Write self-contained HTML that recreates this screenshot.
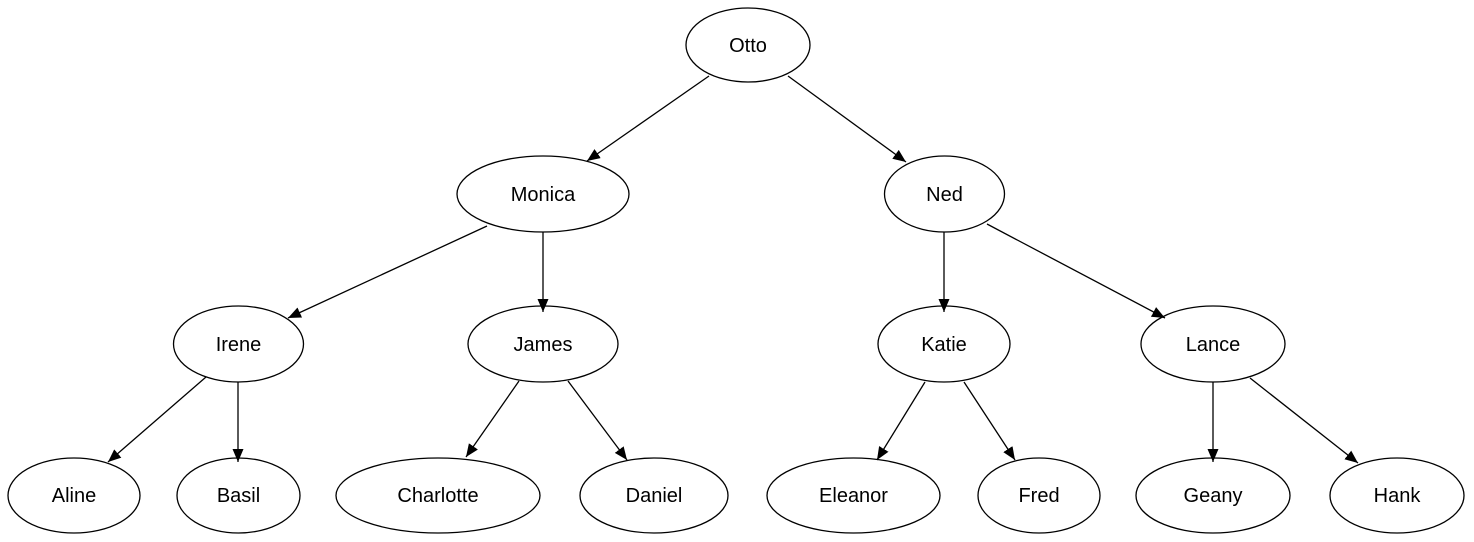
<!DOCTYPE html>
<html><head><meta charset="utf-8"><style>
html,body{margin:0;padding:0;background:#fff;width:1474px;height:542px;overflow:hidden}
text{font-family:"Liberation Sans",sans-serif;font-size:20px;fill:#000}
</style></head><body>
<svg width="1474" height="542" viewBox="0 0 1474 542" xmlns="http://www.w3.org/2000/svg">
<defs><marker id="a" markerUnits="userSpaceOnUse" markerWidth="16" markerHeight="14" refX="13" refY="5.5" orient="auto"><path d="M0,0 L13,5.5 L0,11 z" fill="#000"/></marker></defs>
<g fill="#fff" stroke="#000" stroke-width="1.3">
<ellipse cx="748" cy="45" rx="62" ry="37"/>
<ellipse cx="543" cy="194" rx="86" ry="38"/>
<ellipse cx="944.5" cy="194" rx="60" ry="38"/>
<ellipse cx="238.5" cy="344" rx="65" ry="38"/>
<ellipse cx="543" cy="344" rx="75" ry="38"/>
<ellipse cx="944" cy="344" rx="66" ry="38"/>
<ellipse cx="1213" cy="344" rx="72" ry="38"/>
<ellipse cx="74" cy="495.5" rx="66" ry="37.5"/>
<ellipse cx="238.5" cy="495.5" rx="61.5" ry="37.5"/>
<ellipse cx="438" cy="495.5" rx="102" ry="37.5"/>
<ellipse cx="654" cy="495.5" rx="74" ry="37.5"/>
<ellipse cx="853.5" cy="495.5" rx="86.5" ry="37.5"/>
<ellipse cx="1039" cy="495.5" rx="61" ry="37.5"/>
<ellipse cx="1213" cy="495.5" rx="77" ry="37.5"/>
<ellipse cx="1397" cy="495.5" rx="67" ry="37.5"/>
</g>
<g stroke="#000" stroke-width="1.3" marker-end="url(#a)">
<line x1="709" y1="76" x2="587" y2="161"/>
<line x1="788" y1="76" x2="906" y2="162"/>
<line x1="487" y1="226" x2="288" y2="318"/>
<line x1="543" y1="232" x2="543" y2="312"/>
<line x1="944" y1="232" x2="944" y2="312"/>
<line x1="987" y1="224" x2="1165" y2="318"/>
<line x1="206" y1="377" x2="108" y2="462"/>
<line x1="238" y1="382" x2="238" y2="462"/>
<line x1="519" y1="381" x2="466" y2="457"/>
<line x1="568" y1="381" x2="627" y2="460"/>
<line x1="925" y1="382" x2="877" y2="460"/>
<line x1="964" y1="382" x2="1015" y2="460"/>
<line x1="1213" y1="382" x2="1213" y2="462"/>
<line x1="1250" y1="378" x2="1358" y2="463"/>
</g>
<g text-anchor="middle">
<text x="748" y="52">Otto</text>
<text x="543" y="201">Monica</text>
<text x="944.5" y="201">Ned</text>
<text x="238.5" y="351">Irene</text>
<text x="543" y="351">James</text>
<text x="944" y="351">Katie</text>
<text x="1213" y="351">Lance</text>
<text x="74" y="502">Aline</text>
<text x="238.5" y="502">Basil</text>
<text x="438" y="502">Charlotte</text>
<text x="654" y="502">Daniel</text>
<text x="853.5" y="502">Eleanor</text>
<text x="1039" y="502">Fred</text>
<text x="1213" y="502">Geany</text>
<text x="1397" y="502">Hank</text>
</g>
</svg>
</body></html>
